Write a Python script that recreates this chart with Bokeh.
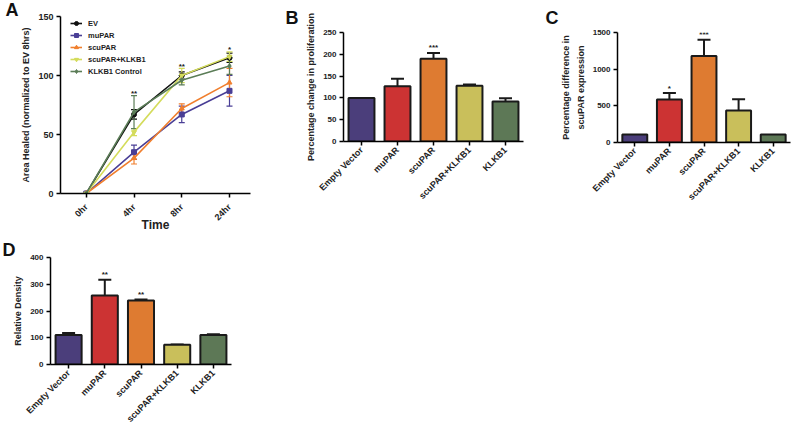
import math
from bokeh.plotting import figure
from bokeh.models import (FactorRange, Range1d, Whisker, TeeHead, ColumnDataSource,
                          Legend, LegendItem, FixedTicker, Title)
from bokeh.layouts import column, row
from bokeh.embed import file_html
from bokeh.resources import INLINE

# ---------------- data ----------------
# Panel A: wound healing time course
time_labels = ["0hr", "4hr", "8hr", "24hr"]
series_names = ["EV", "muPAR", "scuPAR", "scuPAR+KLKB1", "KLKB1 Control"]
ev_vals = [0, 67, 100, 115]
ev_err = [0, 4, 3, 4]
mupar_vals = [0, 35, 67, 87]
mupar_err = [0, 6, 7, 13]
scupar_vals = [0, 30, 72, 94]
scupar_err = [0, 5, 4, 12]
scupar_klkb1_vals = [0, 52, 100, 116]
scupar_klkb1_err = [0, 3, 6, 4]
klkb1_ctrl_vals = [0, 69, 96, 108]
klkb1_ctrl_err = [0, 14, 4, 7]
sig_a = ["", "**", "**", "*"]

# Panels B-D: bar charts
categories = ["Empty Vector", "muPAR", "scuPAR", "scuPAR+KLKB1", "KLKB1"]
prolif_vals = [100, 127, 190, 128, 92]
prolif_err = [0, 17, 13, 3, 7]
sig_b = ["", "", "***", "", ""]
expr_vals = [110, 585, 1180, 435, 110]
expr_err = [0, 90, 220, 155, 0]
sig_c = ["", "*", "***", "", ""]
density_vals = [110, 258, 239, 74, 110]
density_err = [8, 59, 4, 1, 3]
sig_d = ["", "**", "**", "", ""]

# ---------------- styles ----------------
FONT = "Liberation Sans"
line_colors = ["#111111", "#4A3F96", "#F07F2E", "#D4DC5C", "#5B7D57"]
markers = ["circle", "square", "triangle", "inverted_triangle", "diamond"]
bar_colors = ["#4B3E7B", "#CC3333", "#DE7B31", "#C9BF5B", "#5D7856"]


def style_axes(p, tick_size="8px", cat_size="9px"):
    p.xgrid.visible = False
    p.ygrid.visible = False
    p.outline_line_color = None
    p.background_fill_color = "white"
    p.border_fill_color = "white"
    for ax in p.axis:
        ax.axis_line_width = 1.5
        ax.axis_line_color = "black"
        ax.major_tick_line_width = 1.5
        ax.major_tick_line_color = "black"
        ax.major_tick_in = 0
        ax.major_tick_out = 4
        ax.minor_tick_line_color = None
        ax.major_label_text_font = FONT
        ax.major_label_text_font_style = "bold"
        ax.major_label_text_color = "#222222"
        ax.axis_label_text_font = FONT
        ax.axis_label_text_font_style = "bold"
        ax.axis_label_text_color = "#222222"
    p.yaxis.major_label_text_font_size = tick_size
    p.xaxis.major_label_text_font_size = cat_size
    p.yaxis.major_label_standoff = 3
    p.yaxis.axis_label_standoff = 4
    p.yaxis.axis_label_text_font_size = "9px"


def letter_title(txt, offset, standoff):
    return Title(text=txt, align="left", offset=offset, standoff=standoff,
                 text_font=FONT, text_font_style="bold", text_font_size="18px",
                 text_color="#111111")


# ---------------- Panel A ----------------
A_FH = 179
LEG_H = 12
pA = figure(width=270, height=238, output_backend="svg", toolbar_location=None,
            title=None, frame_align=False,
            x_range=Range1d(-0.54, 3.44), y_range=Range1d(0, 150),
            min_border_left=60, min_border_right=20, min_border_top=14, min_border_bottom=45)
pA.add_layout(letter_title("A", -55, -6), "above")
xs = list(range(len(time_labels)))
all_vals = [ev_vals, mupar_vals, scupar_vals, scupar_klkb1_vals, klkb1_ctrl_vals]
all_errs = [ev_err, mupar_err, scupar_err, scupar_klkb1_err, klkb1_ctrl_err]
items = []
for name, vals, errs, col, mk in zip(series_names, all_vals, all_errs, line_colors, markers):
    lr = pA.line(xs, vals, line_color=col, line_width=1.6)
    sr = pA.scatter(xs, vals, marker=mk, size=5, fill_color=col, line_color=col)
    idx = [i for i, e in enumerate(errs) if e > 0]
    src = ColumnDataSource(dict(x=[xs[i] for i in idx],
                                lo=[vals[i] - errs[i] for i in idx],
                                hi=[vals[i] + errs[i] for i in idx]))
    pA.add_layout(Whisker(source=src, base="x", lower="lo", upper="hi", line_color=col,
                          line_width=1.2,
                          upper_head=TeeHead(size=6, line_color=col, line_width=1.2),
                          lower_head=TeeHead(size=6, line_color=col, line_width=1.2)))
    items.append(LegendItem(label=name, renderers=[lr, sr]))
# significance stars above the highest error bar at each time point
star_x, star_y, star_t = [], [], []
for i, s in enumerate(sig_a):
    if s:
        star_x.append(xs[i])
        star_y.append(max(v[i] + e[i] for v, e in zip(all_vals, all_errs)))
        star_t.append(s)
pA.text(star_x, star_y, text=star_t, text_font_size="8px", text_font_style="bold",
        text_align="center", text_baseline="alphabetic", y_offset=-2, text_color="#222222")
legend = Legend(items=items, location=(10, A_FH - 3 - LEG_H * len(items)),
                border_line_color=None, background_fill_alpha=0, padding=0, margin=0,
                spacing=0, glyph_width=12, glyph_height=10, label_height=LEG_H,
                label_standoff=6, label_text_font=FONT, label_text_font_size="7.5px",
                label_text_font_style="bold", label_text_color="#222222")
pA.add_layout(legend)
pA.xaxis.ticker = FixedTicker(ticks=xs)
pA.xaxis.major_label_overrides = {x: t for x, t in zip(xs, time_labels)}
pA.yaxis.ticker = FixedTicker(ticks=[0, 50, 100, 150])
style_axes(pA, tick_size="9px", cat_size="9px")
pA.xaxis.major_label_orientation = math.pi / 4
pA.xaxis.major_label_standoff = 8
pA.xaxis.axis_label = "Time"
pA.xaxis.axis_label_text_font_size = "12px"
pA.xaxis.axis_label_standoff = -11
pA.yaxis.axis_label = "Area Healed (normalized to EV 8hrs)"


# ---------------- bar panels ----------------
def bar_panel(vals, errs, sigs, ymax, ticks, ylabel, width, height, bl, br, bt, bb,
              letter, letter_offset, letter_standoff):
    p = figure(width=width, height=height, output_backend="svg", toolbar_location=None,
               title=None, frame_align=False,
               x_range=FactorRange(factors=categories, range_padding=0),
               y_range=Range1d(0, ymax),
               min_border_left=bl, min_border_right=br, min_border_top=bt, min_border_bottom=bb)
    p.add_layout(letter_title(letter, letter_offset, letter_standoff), "above")
    p.vbar(x=categories, top=vals, width=0.72, fill_color=bar_colors,
           line_color="#1a1a1a", line_width=2)
    idx = [i for i, e in enumerate(errs) if e > 0]
    src = ColumnDataSource(dict(x=[categories[i] for i in idx],
                                lo=[vals[i] for i in idx],
                                hi=[vals[i] + errs[i] for i in idx]))
    p.add_layout(Whisker(source=src, base="x", lower="lo", upper="hi",
                         line_color="#1a1a1a", line_width=2,
                         upper_head=TeeHead(size=13, line_color="#1a1a1a", line_width=2),
                         lower_head=None))
    sidx = [i for i, s in enumerate(sigs) if s]
    p.text([categories[i] for i in sidx], [vals[i] + errs[i] for i in sidx],
           text=[sigs[i] for i in sidx], text_font_size="8px", text_font_style="bold",
           text_align="center", text_baseline="alphabetic", y_offset=-5,
           text_color="#222222")
    p.yaxis.ticker = FixedTicker(ticks=ticks)
    style_axes(p)
    p.xaxis.major_label_orientation = math.pi / 4
    p.xaxis.major_label_standoff = 3
    p.yaxis.axis_label = ylabel
    p.yaxis.axis_label_text_line_height = 1.45
    return p


pB = bar_panel(prolif_vals, prolif_err, sig_b, 250, [0, 50, 100, 150, 200, 250],
               "Percentage change in proliferation", 275, 207, 73, 22, 26, 62,
               "B", -58, 10)
pC = bar_panel(expr_vals, expr_err, sig_c, 1500, [0, 500, 1000, 1500],
               "Percentage difference in\nscuPAR expression", 247, 208, 72, 2, 26, 62,
               "C", -72, 10)
pD = bar_panel(density_vals, density_err, sig_d, 400, [0, 100, 200, 300, 400],
               "Relative Density", 241, 192, 50, 10, 19, 55,
               "D", -48, -4)

layout = column(row(pA, pB, pC), pD)
open("out.html", "w").write(file_html(layout, INLINE))
